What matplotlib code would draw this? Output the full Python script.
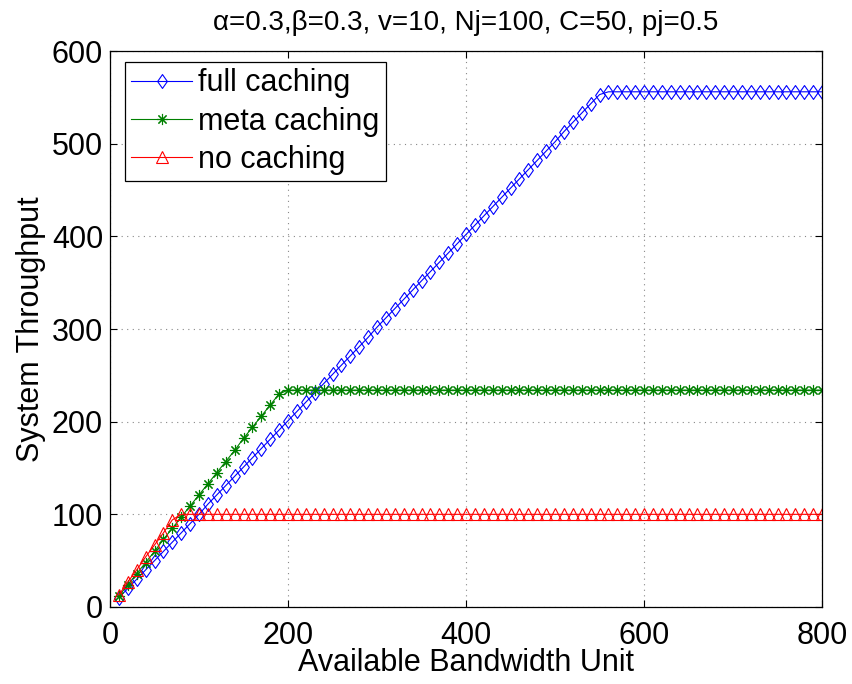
import numpy as np
import matplotlib
matplotlib.use("Agg")
import matplotlib.pyplot as plt
from matplotlib.path import Path

plt.rcParams['font.family'] = ['Liberation Sans', 'DejaVu Sans']

# Data
bandwidth = [10, 20, 30, 40, 50, 60, 70, 80, 90, 100,
             110, 120, 130, 140, 150, 160, 170, 180, 190, 200,
             210, 220, 230, 240, 250, 260, 270, 280, 290, 300,
             310, 320, 330, 340, 350, 360, 370, 380, 390, 400,
             410, 420, 430, 440, 450, 460, 470, 480, 490, 500,
             510, 520, 530, 540, 550, 560, 570, 580, 590, 600,
             610, 620, 630, 640, 650, 660, 670, 680, 690, 700,
             710, 720, 730, 740, 750, 760, 770, 780, 790, 800]

full_caching = [10, 20, 30, 40, 50, 60, 70, 80, 90, 100,
                111, 121, 131, 141, 151, 161, 171, 181, 191, 201,
                211, 221, 231, 241, 251, 261, 271, 281, 291, 302,
                312, 322, 332, 342, 352, 362, 372, 382, 392, 402,
                412, 422, 432, 442, 452, 462, 472, 482, 492, 502,
                513, 523, 533, 543, 553, 556, 556, 556, 556, 556,
                556, 556, 556, 556, 556, 556, 556, 556, 556, 556,
                556, 556, 556, 556, 556, 556, 556, 556, 556, 556]

meta_caching = [12, 24, 36, 48, 60, 73, 85, 97, 109, 121,
                133, 145, 157, 169, 182, 194, 206, 218, 230, 234,
                234, 234, 234, 234, 234, 234, 234, 234, 234, 234,
                234, 234, 234, 234, 234, 234, 234, 234, 234, 234,
                234, 234, 234, 234, 234, 234, 234, 234, 234, 234,
                234, 234, 234, 234, 234, 234, 234, 234, 234, 234,
                234, 234, 234, 234, 234, 234, 234, 234, 234, 234,
                234, 234, 234, 234, 234, 234, 234, 234, 234, 234]

no_caching = [13, 27, 40, 54, 67, 80, 94, 100, 100, 100,
              100, 100, 100, 100, 100, 100, 100, 100, 100, 100,
              100, 100, 100, 100, 100, 100, 100, 100, 100, 100,
              100, 100, 100, 100, 100, 100, 100, 100, 100, 100,
              100, 100, 100, 100, 100, 100, 100, 100, 100, 100,
              100, 100, 100, 100, 100, 100, 100, 100, 100, 100,
              100, 100, 100, 100, 100, 100, 100, 100, 100, 100,
              100, 100, 100, 100, 100, 100, 100, 100, 100, 100]

series_labels = ["full caching", "meta caching", "no caching"]

# MATLAB-like diamond (a bit taller than wide)
diamond = Path([(0, 1), (0.7, 0), (0, -1), (-0.7, 0), (0, 1)],
               [Path.MOVETO, Path.LINETO, Path.LINETO, Path.LINETO, Path.CLOSEPOLY])

fig = plt.figure(figsize=(8.53, 6.84), dpi=100)
ax = fig.add_axes([0.129, 0.1126, 0.8347, 0.8128])

ax.plot(bandwidth, full_caching, color='#0000ff', lw=0.8, marker=diamond,
        ms=10, mfc='none', mew=0.8, label=series_labels[0])
ax.plot(bandwidth, meta_caching, color='#008000', lw=0.8, marker=(8, 2, 0),
        ms=8, mew=0.8, label=series_labels[1])
ax.plot(bandwidth, no_caching, color='#ff0000', lw=0.8, marker='^',
        ms=9, mfc='none', mew=0.8, label=series_labels[2])

ax.set_xlim(0, 800)
ax.set_ylim(0, 600)
ax.set_xticks([0, 200, 400, 600, 800])
ax.set_yticks([0, 100, 200, 300, 400, 500, 600])
ax.tick_params(direction='in', top=True, right=True, length=5, width=0.8,
               labelsize=22)
ax.tick_params(axis='x', pad=10)
ax.tick_params(axis='y', pad=5)
ax.grid(True, color='#888888', linestyle=(0, (1, 4)), linewidth=0.8)
for sp in ax.spines.values():
    sp.set_linewidth(0.9)

ax.set_xlabel("Available Bandwidth Unit", fontsize=22, labelpad=-2)
ax.set_ylabel("System Throughput", fontsize=22, labelpad=4)
ax.set_title("\u03b1=0.3,\u03b2=0.3, v=10, Nj=100, C=50, pj=0.5", fontsize=20, pad=15)

leg = ax.legend(loc='upper left', bbox_to_anchor=(0.021, 0.98), borderaxespad=0,
                fontsize=22, fancybox=False, framealpha=1, edgecolor='k',
                borderpad=0.2, handlelength=2.0, handletextpad=0.2,
                labelspacing=0.27)
leg.get_frame().set_linewidth(0.9)

fig.savefig("out.png", dpi=100)
